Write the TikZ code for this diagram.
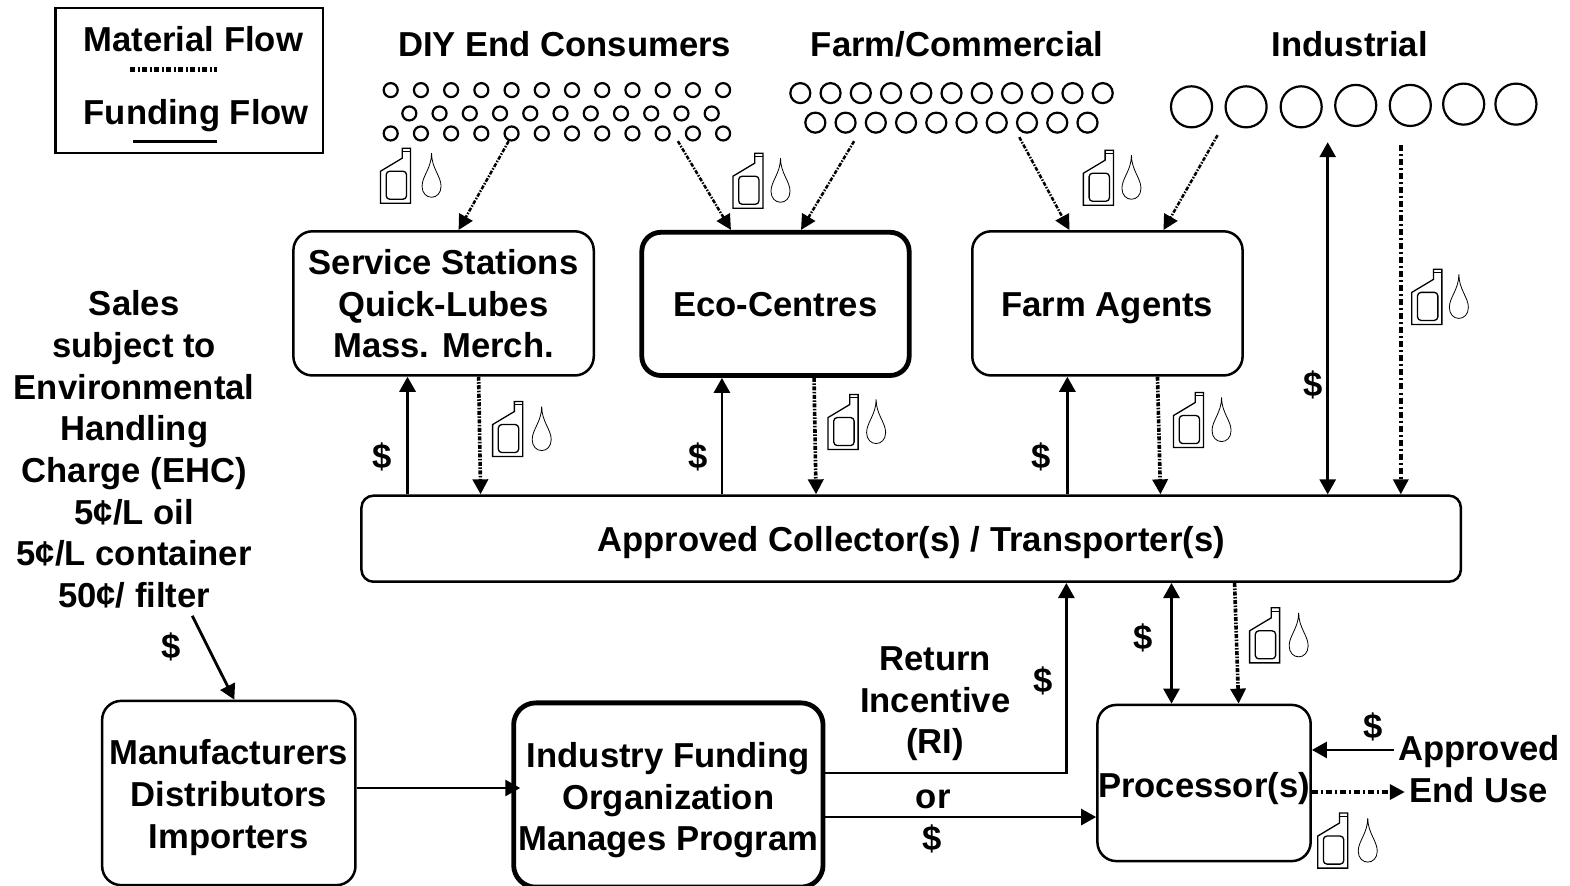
\documentclass[tikz,border=0pt]{standalone}
\usepackage{fontspec}
\setmainfont{Liberation Sans}
\usetikzlibrary{arrows.meta}
\newcommand\boxtext[2]{\raisebox{#1}[0pt][0pt]{\begin{tabular}{@{}c@{}}#2\end{tabular}}}
\tikzset{
  x=1pt,y=-1pt,
  lbl/.style={inner sep=0pt,align=center,font=\fontsize{34.6}{41.6}\selectfont\bfseries},
  box/.style={draw=black,line width=2.5pt,rounded corners=19pt,inner sep=0pt,lbl},
  heavy/.style={box,line width=4.8pt},
  dot/.style={circle,draw=black,inner sep=0pt,outer sep=0pt},
  fund/.style={line width=2.8pt,-{Triangle[length=15pt,width=16pt]}},
  fundtwo/.style={line width=2.8pt,{Triangle[length=15pt,width=16pt]}-{Triangle[length=15pt,width=16pt]}},
  mat/.style={line width=2.5pt,dash pattern=on 4pt off 1.5pt on 1.5pt off 1.5pt,-{Triangle[length=15pt,width=15pt]}},
  matbold/.style={mat,line width=3.6pt},
  matlong/.style={mat,line width=3.4pt,dash pattern=on 6pt off 3pt on 2pt off 3pt},
  oil/.pic={
    \draw[line width=1.3pt,line join=miter] (21.7,0) -- (30,0) -- (30,55) -- (0,55) -- (0,23) -- (21.7,10) -- cycle;
    \draw[line width=1.1pt] (21.7,3.3) -- (30,3.3);
    \draw[line width=1.3pt,rounded corners=3.5pt] (5.7,23) rectangle (26,51);
    \draw[line width=.8pt,xshift=\dropdx pt] (0,5) .. controls (0,20) and (-9.5,28) .. (-9.5,38)
      .. controls (-9.5,45) and (-5,49) .. (0,49)
      .. controls (5,49) and (9.5,45) .. (9.5,38)
      .. controls (9.5,28) and (0,20) .. (0,5);
  }
}
\begin{document}
\begin{tikzpicture}
\useasboundingbox (0,0) rectangle (1568,884.8);
% legend
\node[draw=black,line width=2.5pt,minimum width=267pt,minimum height=145pt,inner sep=0pt] (legend) at (189,80.5) {};
\node[lbl] (tmat) at (193,39) {Material Flow};
\node[lbl] (tfun) at (196,115.5) {Funding Flow};
\coordinate (lma) at (130,69); \coordinate (lmb) at (217,69);
\coordinate (lfa) at (133,141); \coordinate (lfb) at (217,141);
\draw[line width=5pt,dash pattern=on 5pt off 2.5pt on 2pt off 2.5pt] (lma) -- (lmb);
\draw[line width=2.8pt] (lfa) -- (lfb);
% group titles
\node[lbl] (gdiy) at (564,44) {DIY End Consumers};
\node[lbl] (gfarm) at (956,44) {Farm/Commercial};
\node[lbl] (gind) at (1348,44) {Industrial};
% consumer dots
\foreach \i in {0,...,11} {
  \node[dot,line width=2.2pt,minimum size=14pt] (sa\i) at ({390.2+30.18*\i},90) {};
  \node[dot,line width=2.2pt,minimum size=14pt] (sc\i) at ({390.2+30.18*\i},133.3) {};
}
\foreach \i in {0,...,10}
  \node[dot,line width=2.2pt,minimum size=14pt] (sb\i) at ({408.8+30.2*\i},113.3) {};
\foreach \i in {0,...,10}
  \node[dot,line width=2.2pt,minimum size=20pt] (ma\i) at ({799.3+30.2*\i},93) {};
\foreach \i in {0,...,9}
  \node[dot,line width=2.2pt,minimum size=20pt] (mb\i) at ({814.3+30.2*\i},122.5) {};
\foreach \i/\px/\py in {0/1190/106.7,1/1244.5/106.7,2/1299.5/106.7,3/1354/105.3,4/1408.5/105.3,5/1461.8/104,6/1514/104}
  \node[dot,line width=2.2pt,minimum size=41pt] (l\i) at (\px,\py) {};
% boxes
\node[box,minimum width=300pt,minimum height=144pt] (svc) at (443,303) {\boxtext{-10.5pt}{Service Stations\\Quick-Lubes\\Mass. Merch.}};
\node[heavy,minimum width=267pt,minimum height=143pt] (eco) at (774.5,303.5) {\boxtext{-10pt}{Eco-Centres}};
\node[box,minimum width=270pt,minimum height=144pt] (farm) at (1106,303) {\boxtext{-10.5pt}{Farm Agents}};
\node[box,rounded corners=12pt,minimum width=1098pt,minimum height=86pt] (coll) at (910,538) {\boxtext{-11pt}{Approved Collector(s) / Transporter(s)}};
\node[box,minimum width=253pt,minimum height=184pt] (manu) at (228.5,792) {\boxtext{-11.5pt}{Manufacturers\\Distributors\\Importers}};
\node[heavy,rounded corners=22pt,minimum width=309pt,minimum height=184pt] (ifo) at (667.5,794) {\boxtext{-12.2pt}{Industry Funding\\Organization\\Manages Program}};
\node[box,minimum width=213pt,minimum height=156pt] (proc) at (1202.5,782) {\boxtext{-12.5pt}{Processor(s)}};
% free labels
\node[lbl] (sales) at (134,449) {Sales\\subject to\\Environmental\\Handling\\Charge (EHC)\\5¢/L oil\\5¢/L container\\50¢/ filter};
\node[lbl] (d1) at (171,646) {\$};
\node[lbl] (d2) at (382,456) {\$};
\node[lbl] (d3) at (697,456) {\$};
\node[lbl] (d4) at (1040,456) {\$};
\node[lbl] (d5) at (1311,384) {\$};
\node[lbl] (d6) at (1042,680) {\$};
\node[lbl] (d7) at (1142,637) {\$};
\node[lbl] (d8) at (1371,726) {\$};
\node[lbl] (d9) at (931,838) {\$};
\node[lbl] (ret) at (934,703) {Return\\Incentive\\(RI)};
\node[lbl] (orl) at (932,798) {or};
\node[lbl] (endu) at (1477,768) {Approved\\End Use};
% free ends
\coordinate (c1) at (508,141);
\coordinate (c2) at (677,141);
\coordinate (c3) at (853,141);
\coordinate (c4) at (1018,137);
\coordinate (c5) at (1216,135);
\coordinate (c6) at (1326,142);
\coordinate (c7) at (1399,145);
\coordinate (c8) at (192,615);
\coordinate (c9) at (1392,749);
\coordinate (c10) at (1403,791);
% diagonal material arrows
\draw[mat] (c1) -- (svc.north -| 458,0);
\draw[mat] (c2) -- (eco.north -| 730,0);
\draw[mat] (c3) -- (eco.north -| 800,0);
\draw[mat] (c4) -- (farm.north -| 1068,0);
\draw[mat] (c5) -- (farm.north -| 1162,0);
% between boxes and collector
\draw[fund] (coll.north -| 407,0) -- (svc.south -| 407,0);
\draw[fund] (coll.north -| 721,0) -- (eco.south -| 721,0);
\draw[fund] (coll.north -| 1066,0) -- (farm.south -| 1066,0);
\draw[matbold] (svc.south -| 478,0) -- (coll.north -| 480,0);
\draw[matbold] (eco.south -| 813,0) -- (coll.north -| 815,0);
\draw[matbold] (farm.south -| 1156,0) -- (coll.north -| 1159,0);
\draw[fundtwo] (c6) -- (coll.north -| c6);
\draw[matlong] (c7) -- (coll.north -| c7);
% bottom
\draw[fund] (c8) -- (manu.north -| 234,0);
\draw[fund,shorten >=-9pt] (manu.east |- 0,787) -- (ifo.west |- 0,787);
\draw[fund] (ifo.east |- 0,772) -- (1065,772) -- (coll.south -| 1065,0);
\draw[fund] (ifo.east |- 0,816) -- (proc.west |- 0,816);
\draw[fundtwo] (coll.south -| 1170,0) -- (proc.north -| 1170,0);
\draw[matbold] (coll.south -| 1233,0) -- (proc.north -| 1237,0);
\draw[fund] (c9) -- (proc.east |- c9);
\draw[matlong] (proc.east |- c10) -- (c10);
% oil icons
\foreach \bx/\by/\dropdx in {380/148/51,732/153/47.5,1082/150/48,1410/269/47,492/401/49,827/394/48,1172/392/48,1248/607/49,1316/812/50}
  \pic at (\bx,\by) {oil};
\end{tikzpicture}
\end{document}
